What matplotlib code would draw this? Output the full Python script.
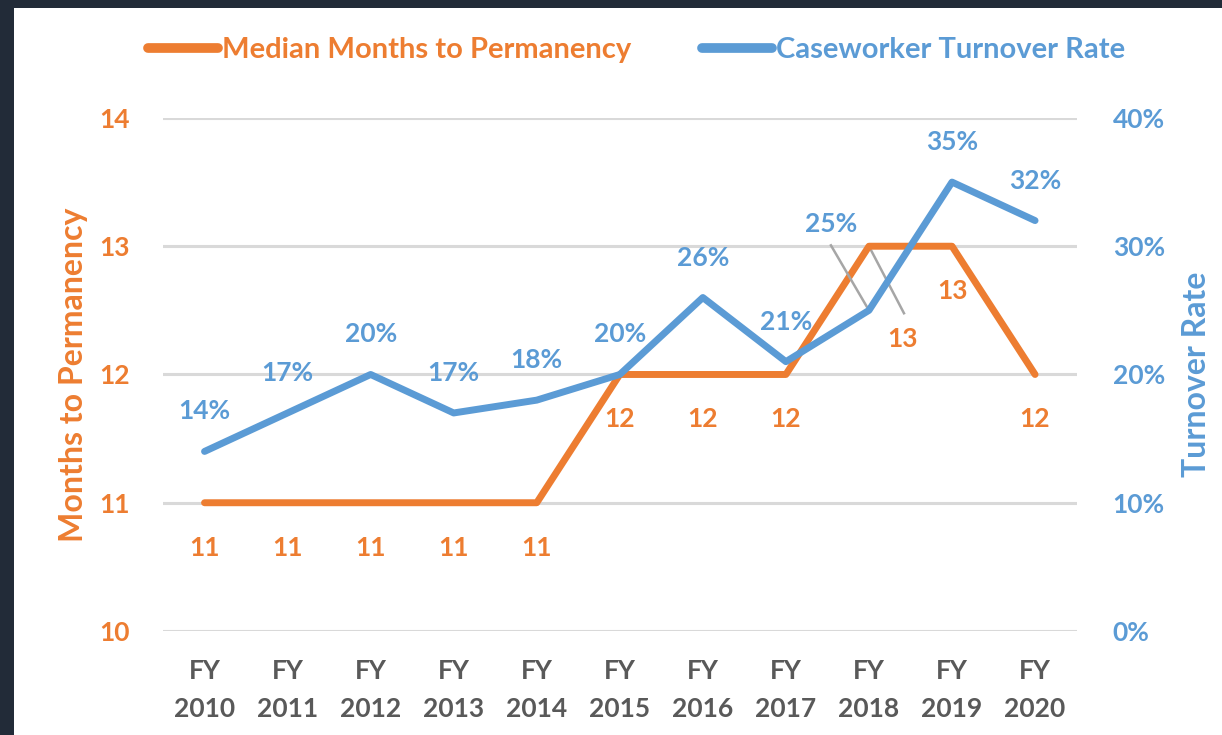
import numpy as np
import matplotlib.pyplot as plt
from matplotlib.patches import Rectangle
from matplotlib.lines import Line2D

plt.rcParams['font.family'] = ['Lato', 'DejaVu Sans']

# 数据
years = ['2010', '2011', '2012', '2013', '2014', '2015', '2016', '2017', '2018', '2019', '2020']
months = [11, 11, 11, 11, 11, 12, 12, 12, 13, 13, 12]
turnover = [14, 17, 20, 17, 18, 20, 26, 21, 25, 35, 32]
xlabels = ['FY\n' + y for y in years]

ORANGE = '#ED7D31'
BLUE = '#5B9BD5'
GREY = '#595959'
FS = 19

fig = plt.figure(figsize=(12.22, 7.35), dpi=100, facecolor='#222B38')
fig.patches.append(Rectangle((14 / 1222, 0), 1, 1 - 8 / 735, transform=fig.transFigure,
                             facecolor='white', edgecolor='none', zorder=-10))

ax = fig.add_axes([0.1334, 0.1415, 0.881 - 0.1334, 0.8395 - 0.1415])
ax.set_facecolor('none')
ax2 = ax.twinx()

x = np.arange(len(years))

ax.set_ylim(10, 14)
ax.set_yticks([10, 11, 12, 13, 14])
ax.set_xlim(-0.5, len(years) - 0.5)
ax.grid(axis='y', color='#D9D9D9', linewidth=2.2)
ax.set_axisbelow(True)

ax2.set_ylim(0, 40)
ax2.set_yticks([0, 10, 20, 30, 40])
ax2.set_yticklabels([f'{v}%' for v in [0, 10, 20, 30, 40]])

ax.plot(x, months, color=ORANGE, linewidth=5, solid_capstyle='round', zorder=3)
ax2.plot(x, turnover, color=BLUE, linewidth=5, solid_capstyle='round', zorder=3)

for a in (ax, ax2):
    for s in a.spines.values():
        s.set_visible(False)
    a.tick_params(length=0)

ax.set_xticks(x)
ax.set_xticklabels(xlabels, color=GREY, fontsize=FS, fontweight='bold', linespacing=1.7)
ax.tick_params(axis='x', pad=20)
ax.tick_params(axis='y', colors=ORANGE, labelsize=FS, pad=24)
ax2.tick_params(axis='y', colors=BLUE, labelsize=FS, pad=26)
for lab in ax.get_yticklabels() + ax2.get_yticklabels():
    lab.set_fontweight('bold')

ax.set_ylabel('Months to Permanency', color=ORANGE, fontsize=23, fontweight='bold', labelpad=8)
ax2.set_ylabel('Turnover Rate', color=BLUE, fontsize=23, fontweight='bold', labelpad=12)

# 数据标签
for i, (m, t) in enumerate(zip(months, turnover)):
    if i == 8:
        continue
    ax.annotate(str(m), (i, m), xytext=(0, -45), textcoords='offset pixels',
                ha='center', va='center', color=ORANGE, fontsize=FS, fontweight='bold')
    ax2.annotate(f'{t}%', (i, t), xytext=(0, 40), textcoords='offset pixels',
                 ha='center', va='center', color=BLUE, fontsize=FS, fontweight='bold')

# 2018 的标签带引线
ax2.annotate('25%', (8, 25), xytext=(-38, 86), textcoords='offset pixels',
             ha='center', va='center', color=BLUE, fontsize=FS, fontweight='bold')
ax2.plot([8 - 38 / 83, 8], [25 + 65 / 12.825, 25], color='#A6A6A6', linewidth=1.8, zorder=2)
ax.annotate('13', (8, 13), xytext=(34, -93), textcoords='offset pixels',
            ha='center', va='center', color=ORANGE, fontsize=FS, fontweight='bold')
ax.plot([8, 8 + 35 / 83], [13, 13 - 67 / 128.25], color='#A6A6A6', linewidth=1.8, zorder=2)

# 图例
handles = [Line2D([], [], color=ORANGE, linewidth=7, solid_capstyle='round'),
           Line2D([], [], color=BLUE, linewidth=7, solid_capstyle='round')]
leg = fig.legend(handles, ['Median Months to Permanency', 'Caseworker Turnover Rate'],
                 loc='center', bbox_to_anchor=(0.521, 0.932), ncol=2, frameon=False,
                 prop={'size': 21, 'weight': 'bold'},
                 handlelength=2.4, handletextpad=0.12, columnspacing=2.45)
leg.get_texts()[0].set_color(ORANGE)
leg.get_texts()[1].set_color(BLUE)

fig.savefig('out.png', dpi=100, facecolor=fig.get_facecolor())
